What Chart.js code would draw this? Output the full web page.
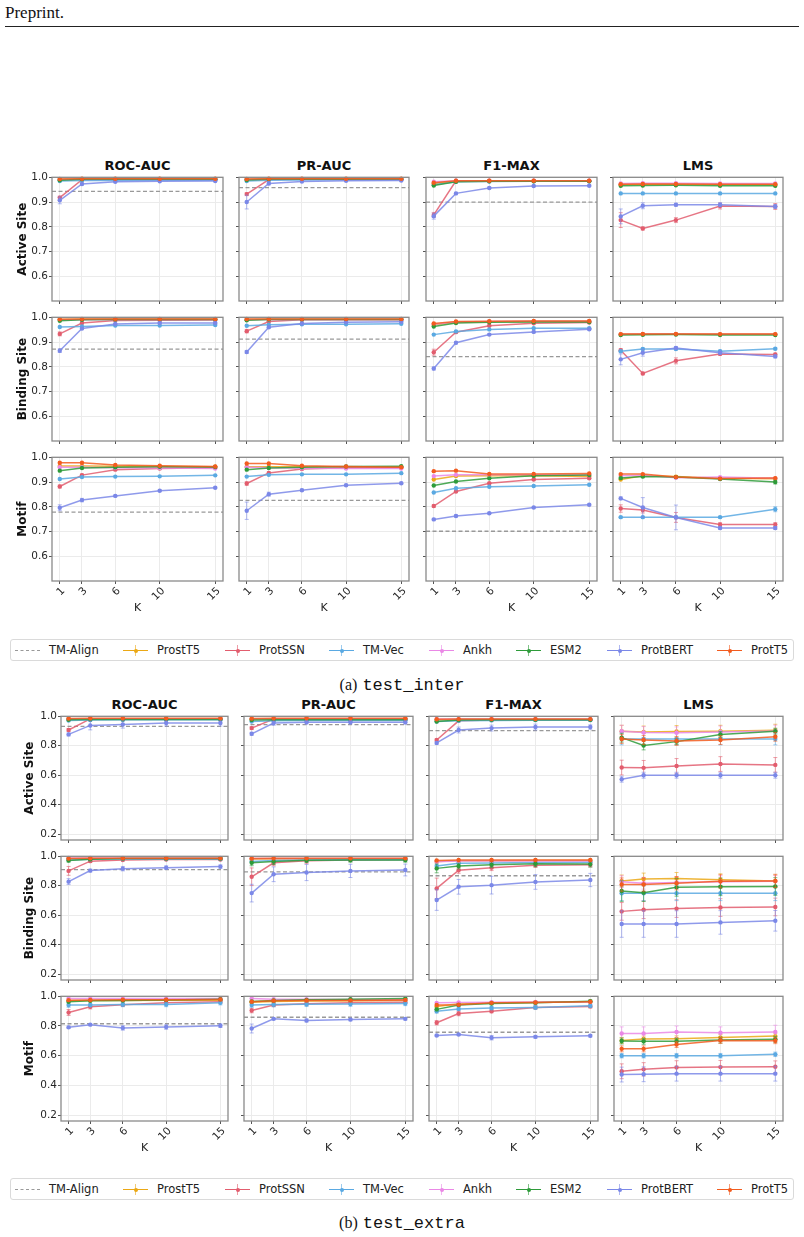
<!DOCTYPE html>
<html>
<head>
<meta charset="utf-8">
<script src="https://cdn.jsdelivr.net/npm/chart.js@4.4.1/dist/chart.umd.min.js"></script>
<style>
  body { margin: 0; background: #fff; width: 804px; height: 1237px; position: relative; overflow: hidden; font-family: "DejaVu Sans", sans-serif; }
  .abs { position: absolute; }
  .coltitle { position: absolute; font: bold 13px "DejaVu Sans"; color: #111; text-align: center; line-height: 16px; }
  .legend { position: absolute; left: 10px; width: 782px; height: 20px; border: 1px solid #dadada; border-radius: 3px; }
  .legtext { position: absolute; font: 11.5px "DejaVu Sans"; color: #222; line-height: 20px; top: 0; }
  .caption { position: absolute; left: 0; width: 804px; text-align: center; line-height: 22px; color: #111; }
</style>
</head>
<body>
<div class="abs" style="left:5px;top:3px;font:17px 'Liberation Serif';color:#111;">Preprint.</div>
<div class="abs" style="left:5px;top:26px;width:794px;height:1px;background:#222;"></div>

<script>
// ---- data ----
const K = [1, 3, 6, 10, 15];
const models = ["ProstT5", "ProtSSN", "TM-Vec", "Ankh", "ESM2", "ProtBERT", "ProtT5"];
const metrics = ["ROC-AUC", "PR-AUC", "F1-MAX", "LMS"];
const tasks = ["Active Site", "Binding Site", "Motif"];
const colors = {
  "TM-Align": "#999999",
  ProstT5: "#EBA815",
  ProtSSN: "#E25D6E",
  "TM-Vec": "#5AA9E2",
  Ankh: "#EA88E6",
  ESM2: "#2E9B3A",
  ProtBERT: "#7B88E8",
  ProtT5: "#F25C1F"
};

// test_inter
const interActiveRoc = {
  ProstT5:  [0.992, 0.993, 0.993, 0.993, 0.993],
  ProtSSN:  [0.918, 0.990, 0.991, 0.991, 0.991],
  "TM-Vec": [0.985, 0.987, 0.987, 0.988, 0.988],
  Ankh:     [0.991, 0.992, 0.992, 0.992, 0.992],
  ESM2:     [0.988, 0.992, 0.992, 0.992, 0.992],
  ProtBERT: [0.907, 0.973, 0.982, 0.984, 0.985],
  ProtT5:   [0.993, 0.994, 0.994, 0.994, 0.994]
};
const interActivePr = {
  ProstT5:  [0.992, 0.993, 0.993, 0.993, 0.993],
  ProtSSN:  [0.932, 0.991, 0.992, 0.992, 0.992],
  "TM-Vec": [0.985, 0.988, 0.989, 0.990, 0.990],
  Ankh:     [0.991, 0.992, 0.992, 0.992, 0.992],
  ESM2:     [0.989, 0.992, 0.992, 0.992, 0.992],
  ProtBERT: [0.900, 0.975, 0.983, 0.986, 0.987],
  ProtT5:   [0.993, 0.994, 0.994, 0.994, 0.994]
};
const interActiveF1 = {
  ProstT5:  [0.975, 0.984, 0.985, 0.985, 0.985],
  ProtSSN:  [0.848, 0.986, 0.986, 0.986, 0.986],
  "TM-Vec": [0.970, 0.982, 0.983, 0.984, 0.984],
  Ankh:     [0.982, 0.986, 0.986, 0.986, 0.986],
  ESM2:     [0.967, 0.982, 0.984, 0.984, 0.984],
  ProtBERT: [0.843, 0.935, 0.957, 0.965, 0.966],
  ProtT5:   [0.978, 0.986, 0.986, 0.986, 0.986]
};
const interActiveLms = {
  ProstT5:  [0.971, 0.972, 0.972, 0.971, 0.971],
  ProtSSN:  [0.827, 0.793, 0.827, 0.884, 0.882],
  "TM-Vec": [0.935, 0.935, 0.935, 0.935, 0.935],
  Ankh:     [0.975, 0.976, 0.976, 0.975, 0.975],
  ESM2:     [0.966, 0.967, 0.968, 0.966, 0.966],
  ProtBERT: [0.842, 0.885, 0.889, 0.889, 0.882],
  ProtT5:   [0.972, 0.973, 0.973, 0.972, 0.972]
};
const interBindingRoc = {
  ProstT5:  [0.991, 0.992, 0.992, 0.992, 0.992],
  ProtSSN:  [0.933, 0.977, 0.987, 0.988, 0.989],
  "TM-Vec": [0.961, 0.963, 0.967, 0.967, 0.969],
  Ankh:     [0.990, 0.990, 0.991, 0.991, 0.991],
  ESM2:     [0.986, 0.990, 0.991, 0.991, 0.991],
  ProtBERT: [0.865, 0.955, 0.973, 0.977, 0.977],
  ProtT5:   [0.992, 0.993, 0.993, 0.993, 0.993]
};
const interBindingPr = {
  ProstT5:  [0.991, 0.992, 0.992, 0.992, 0.992],
  ProtSSN:  [0.944, 0.983, 0.990, 0.990, 0.990],
  "TM-Vec": [0.966, 0.970, 0.972, 0.972, 0.974],
  Ankh:     [0.990, 0.991, 0.991, 0.991, 0.991],
  ESM2:     [0.988, 0.991, 0.991, 0.991, 0.991],
  ProtBERT: [0.860, 0.960, 0.975, 0.980, 0.982],
  ProtT5:   [0.993, 0.993, 0.993, 0.993, 0.993]
};
const interBindingF1 = {
  ProstT5:  [0.970, 0.980, 0.982, 0.983, 0.983],
  ProtSSN:  [0.859, 0.940, 0.966, 0.976, 0.979],
  "TM-Vec": [0.930, 0.943, 0.951, 0.956, 0.956],
  Ankh:     [0.972, 0.981, 0.983, 0.984, 0.984],
  ESM2:     [0.963, 0.977, 0.980, 0.981, 0.981],
  ProtBERT: [0.793, 0.897, 0.930, 0.941, 0.952],
  ProtT5:   [0.975, 0.983, 0.984, 0.985, 0.985]
};
const interBindingLms = {
  ProstT5:  [0.931, 0.932, 0.932, 0.931, 0.931],
  ProtSSN:  [0.867, 0.773, 0.824, 0.852, 0.850],
  "TM-Vec": [0.863, 0.872, 0.872, 0.863, 0.873],
  Ankh:     [0.931, 0.932, 0.932, 0.931, 0.931],
  ESM2:     [0.928, 0.929, 0.930, 0.928, 0.928],
  ProtBERT: [0.830, 0.857, 0.876, 0.857, 0.842],
  ProtT5:   [0.932, 0.933, 0.933, 0.932, 0.932]
};
const interMotifRoc = {
  ProstT5:  [0.965, 0.965, 0.964, 0.963, 0.962],
  ProtSSN:  [0.882, 0.928, 0.950, 0.955, 0.958],
  "TM-Vec": [0.912, 0.920, 0.922, 0.923, 0.927],
  Ankh:     [0.960, 0.960, 0.958, 0.957, 0.955],
  ESM2:     [0.946, 0.957, 0.960, 0.962, 0.961],
  ProtBERT: [0.796, 0.827, 0.844, 0.865, 0.877],
  ProtT5:   [0.978, 0.978, 0.969, 0.966, 0.963]
};
const interMotifPr = {
  ProstT5:  [0.962, 0.962, 0.962, 0.961, 0.960],
  ProtSSN:  [0.894, 0.937, 0.953, 0.958, 0.958],
  "TM-Vec": [0.922, 0.929, 0.931, 0.931, 0.936],
  Ankh:     [0.960, 0.958, 0.956, 0.955, 0.955],
  ESM2:     [0.950, 0.957, 0.960, 0.963, 0.964],
  ProtBERT: [0.784, 0.851, 0.867, 0.887, 0.895],
  ProtT5:   [0.975, 0.975, 0.966, 0.963, 0.960]
};
const interMotifF1 = {
  ProstT5:  [0.910, 0.924, 0.925, 0.925, 0.922],
  ProtSSN:  [0.803, 0.862, 0.895, 0.910, 0.915],
  "TM-Vec": [0.858, 0.875, 0.881, 0.884, 0.889],
  Ankh:     [0.924, 0.929, 0.929, 0.929, 0.928],
  ESM2:     [0.886, 0.902, 0.915, 0.925, 0.928],
  ProtBERT: [0.749, 0.763, 0.774, 0.797, 0.808],
  ProtT5:   [0.944, 0.946, 0.933, 0.933, 0.935]
};
const interMotifLms = {
  ProstT5:  [0.910, 0.925, 0.922, 0.915, 0.913],
  ProtSSN:  [0.793, 0.787, 0.757, 0.728, 0.728],
  "TM-Vec": [0.758, 0.758, 0.758, 0.758, 0.790],
  Ankh:     [0.925, 0.927, 0.917, 0.920, 0.915],
  ESM2:     [0.916, 0.922, 0.920, 0.912, 0.900],
  ProtBERT: [0.834, 0.797, 0.757, 0.714, 0.714],
  ProtT5:   [0.932, 0.932, 0.920, 0.914, 0.916]
};
const interTmAlign = [
  [0.943, 0.958, 0.900, null],
  [0.871, 0.912, 0.841, null],
  [0.778, 0.826, 0.701, null]
];
// error bars (std), only where visible
const interActiveRocErr = { ProtSSN: [0.006, 0.002, 0.001, 0.001, 0.001], ProtBERT: [0.014, 0.004, 0.002, 0.002, 0.002] };
const interActivePrErr = { ProtSSN: [0.006, 0.002, 0.001, 0.001, 0.001], ProtBERT: [0.028, 0.005, 0.002, 0.002, 0.002] };
const interActiveF1Err = { ProtSSN: [0.010, 0.002, 0.001, 0.001, 0.001], ProtBERT: [0.012, 0.004, 0.003, 0.003, 0.003] };
const interActiveLmsErr = { ProtSSN: [0.030, 0.006, 0.010, 0.012, 0.012], ProtBERT: [0.030, 0.012, 0.006, 0.008, 0.008] };
const interBindingRocErr = { ProtSSN: [0.008, 0.003, 0.002, 0.002, 0.002], ProtBERT: [0.007, 0.004, 0.002, 0.002, 0.002] };
const interBindingPrErr = { ProtSSN: [0.007, 0.003, 0.002, 0.002, 0.002], ProtBERT: [0.006, 0.004, 0.002, 0.002, 0.002] };
const interBindingF1Err = { ProtSSN: [0.012, 0.004, 0.003, 0.003, 0.003], ProtBERT: [0.006, 0.004, 0.003, 0.003, 0.003] };
const interBindingLmsErr = { ProtSSN: [0.006, 0.005, 0.012, 0.005, 0.005], ProtBERT: [0.022, 0.014, 0.006, 0.006, 0.006], "TM-Vec": [0.004, 0.004, 0.004, 0.004, 0.004] };
const interMotifRocErr = { ProtSSN: [0.006, 0.004, 0.003, 0.003, 0.003], ProtBERT: [0.012, 0.007, 0.003, 0.003, 0.003] };
const interMotifPrErr = { ProtSSN: [0.007, 0.004, 0.003, 0.003, 0.003], ProtBERT: [0.035, 0.008, 0.004, 0.004, 0.004] };
const interMotifF1Err = { ProtSSN: [0.005, 0.004, 0.003, 0.003, 0.003], ProtBERT: [0.004, 0.004, 0.003, 0.003, 0.003] };
const interMotifLmsErr = {
  ESM2: [0.004, 0.004, 0.004, 0.004, 0.008], ProtBERT: [0.006, 0.040, 0.050, 0.006, 0.006],
  ProtSSN: [0.015, 0.012, 0.020, 0.008, 0.008], "TM-Vec": [0.003, 0.003, 0.003, 0.003, 0.010]
};

// test_extra
const extraActiveRoc = {
  ProstT5:  [0.982, 0.983, 0.983, 0.983, 0.983],
  ProtSSN:  [0.907, 0.982, 0.983, 0.983, 0.983],
  "TM-Vec": [0.971, 0.975, 0.976, 0.976, 0.976],
  Ankh:     [0.983, 0.984, 0.984, 0.984, 0.984],
  ESM2:     [0.976, 0.978, 0.978, 0.978, 0.978],
  ProtBERT: [0.877, 0.938, 0.945, 0.954, 0.954],
  ProtT5:   [0.985, 0.986, 0.986, 0.986, 0.986]
};
const extraActivePr = {
  ProstT5:  [0.980, 0.981, 0.981, 0.981, 0.981],
  ProtSSN:  [0.920, 0.982, 0.983, 0.983, 0.983],
  "TM-Vec": [0.965, 0.970, 0.972, 0.972, 0.972],
  Ankh:     [0.982, 0.983, 0.983, 0.983, 0.983],
  ESM2:     [0.975, 0.976, 0.976, 0.976, 0.976],
  ProtBERT: [0.881, 0.954, 0.960, 0.960, 0.960],
  ProtT5:   [0.985, 0.986, 0.986, 0.986, 0.986]
};
const extraActiveF1 = {
  ProstT5:  [0.975, 0.978, 0.979, 0.979, 0.979],
  ProtSSN:  [0.839, 0.969, 0.975, 0.976, 0.976],
  "TM-Vec": [0.965, 0.970, 0.972, 0.974, 0.974],
  Ankh:     [0.982, 0.982, 0.982, 0.982, 0.982],
  ESM2:     [0.965, 0.975, 0.976, 0.977, 0.977],
  ProtBERT: [0.819, 0.907, 0.920, 0.927, 0.927],
  ProtT5:   [0.980, 0.981, 0.981, 0.981, 0.981]
};
const extraActiveLms = {
  ProstT5:  [0.899, 0.894, 0.897, 0.899, 0.906],
  ProtSSN:  [0.652, 0.650, 0.663, 0.676, 0.670],
  "TM-Vec": [0.846, 0.846, 0.846, 0.846, 0.846],
  Ankh:     [0.899, 0.890, 0.888, 0.894, 0.900],
  ESM2:     [0.855, 0.802, 0.828, 0.877, 0.899],
  ProtBERT: [0.573, 0.600, 0.600, 0.600, 0.600],
  ProtT5:   [0.846, 0.839, 0.833, 0.839, 0.861]
};
const extraBindingRoc = {
  ProstT5:  [0.985, 0.985, 0.985, 0.985, 0.985],
  ProtSSN:  [0.901, 0.967, 0.975, 0.978, 0.978],
  "TM-Vec": [0.975, 0.980, 0.982, 0.982, 0.982],
  Ankh:     [0.988, 0.988, 0.988, 0.988, 0.988],
  ESM2:     [0.971, 0.980, 0.985, 0.985, 0.985],
  ProtBERT: [0.828, 0.903, 0.916, 0.923, 0.930],
  ProtT5:   [0.985, 0.987, 0.987, 0.987, 0.987]
};
const extraBindingPr = {
  ProstT5:  [0.982, 0.982, 0.982, 0.982, 0.982],
  ProtSSN:  [0.861, 0.956, 0.970, 0.975, 0.978],
  "TM-Vec": [0.965, 0.972, 0.975, 0.976, 0.976],
  Ankh:     [0.985, 0.985, 0.985, 0.985, 0.985],
  ESM2:     [0.956, 0.964, 0.973, 0.975, 0.975],
  ProtBERT: [0.750, 0.878, 0.890, 0.901, 0.907],
  ProtT5:   [0.985, 0.986, 0.986, 0.986, 0.986]
};
const extraBindingF1 = {
  ProstT5:  [0.965, 0.970, 0.970, 0.971, 0.971],
  ProtSSN:  [0.782, 0.905, 0.923, 0.940, 0.943],
  "TM-Vec": [0.934, 0.952, 0.955, 0.958, 0.960],
  Ankh:     [0.963, 0.968, 0.968, 0.968, 0.968],
  ESM2:     [0.918, 0.934, 0.943, 0.949, 0.947],
  ProtBERT: [0.703, 0.793, 0.804, 0.826, 0.839],
  ProtT5:   [0.971, 0.975, 0.975, 0.975, 0.975]
};
const extraBindingLms = {
  ProstT5:  [0.833, 0.846, 0.850, 0.841, 0.833],
  ProtSSN:  [0.626, 0.637, 0.645, 0.652, 0.656],
  "TM-Vec": [0.749, 0.749, 0.749, 0.749, 0.749],
  Ankh:     [0.828, 0.817, 0.822, 0.828, 0.830],
  ESM2:     [0.764, 0.753, 0.789, 0.793, 0.795],
  ProtBERT: [0.540, 0.540, 0.540, 0.551, 0.562],
  ProtT5:   [0.808, 0.808, 0.817, 0.830, 0.833]
};
const extraMotifRoc = {
  ProstT5:  [0.970, 0.972, 0.972, 0.973, 0.974],
  ProtSSN:  [0.891, 0.930, 0.943, 0.957, 0.963],
  "TM-Vec": [0.941, 0.941, 0.945, 0.945, 0.957],
  Ankh:     [0.985, 0.985, 0.985, 0.985, 0.985],
  ESM2:     [0.963, 0.970, 0.972, 0.975, 0.980],
  ProtBERT: [0.791, 0.809, 0.787, 0.793, 0.802],
  ProtT5:   [0.974, 0.975, 0.977, 0.977, 0.978]
};
const extraMotifPr = {
  ProstT5:  [0.960, 0.965, 0.968, 0.970, 0.972],
  ProtSSN:  [0.904, 0.941, 0.950, 0.957, 0.960],
  "TM-Vec": [0.941, 0.944, 0.946, 0.948, 0.952],
  Ankh:     [0.985, 0.980, 0.980, 0.978, 0.978],
  ESM2:     [0.965, 0.972, 0.976, 0.980, 0.985],
  ProtBERT: [0.783, 0.848, 0.837, 0.843, 0.848],
  ProtT5:   [0.963, 0.970, 0.972, 0.972, 0.975]
};
const extraMotifF1 = {
  ProstT5:  [0.932, 0.950, 0.955, 0.960, 0.963],
  ProtSSN:  [0.822, 0.884, 0.899, 0.925, 0.932],
  "TM-Vec": [0.899, 0.915, 0.921, 0.925, 0.936],
  Ankh:     [0.956, 0.958, 0.960, 0.962, 0.962],
  ESM2:     [0.912, 0.941, 0.952, 0.956, 0.967],
  ProtBERT: [0.736, 0.743, 0.721, 0.727, 0.734],
  ProtT5:   [0.941, 0.943, 0.956, 0.958, 0.963]
};
const extraMotifLms = {
  ProstT5:  [0.703, 0.712, 0.714, 0.723, 0.732],
  ProtSSN:  [0.495, 0.508, 0.521, 0.523, 0.525],
  "TM-Vec": [0.600, 0.600, 0.600, 0.600, 0.609],
  Ankh:     [0.749, 0.749, 0.760, 0.754, 0.760],
  ESM2:     [0.699, 0.697, 0.697, 0.705, 0.710],
  ProtBERT: [0.473, 0.475, 0.479, 0.479, 0.479],
  ProtT5:   [0.646, 0.646, 0.675, 0.703, 0.701]
};
const extraTmAlign = [
  [0.932, 0.943, 0.903, null],
  [0.910, 0.894, 0.868, null],
  [0.815, 0.859, 0.758, null]
];
const extraActiveRocErr = { ProtSSN: [0.010, 0.004, 0.003, 0.003, 0.003], ProtBERT: [0.010, 0.030, 0.025, 0.020, 0.020] };
const extraActivePrErr = { ProtSSN: [0.010, 0.004, 0.003, 0.003, 0.003], ProtBERT: [0.010, 0.015, 0.012, 0.012, 0.012] };
const extraActiveF1Err = { ProtSSN: [0.008, 0.004, 0.003, 0.003, 0.003], ProtBERT: [0.008, 0.020, 0.020, 0.020, 0.015] };
const extraActiveLmsErr = {
  ProstT5: [0.040, 0.040, 0.040, 0.040, 0.040], Ankh: [0.040, 0.040, 0.040, 0.040, 0.040],
  ESM2: [0.030, 0.030, 0.020, 0.020, 0.020], ProtT5: [0.030, 0.030, 0.030, 0.030, 0.030],
  "TM-Vec": [0.040, 0.040, 0.040, 0.040, 0.040], ProtSSN: [0.050, 0.050, 0.050, 0.050, 0.050],
  ProtBERT: [0.020, 0.020, 0.020, 0.020, 0.020]
};
const extraBindingRocErr = { ESM2: [0.010, 0.010, 0.008, 0.008, 0.008], ProtSSN: [0.030, 0.008, 0.005, 0.005, 0.005], ProtBERT: [0.020, 0.010, 0.015, 0.012, 0.012] };
const extraBindingPrErr = { ESM2: [0.020, 0.020, 0.015, 0.015, 0.015], ProtSSN: [0.060, 0.020, 0.020, 0.010, 0.010], ProtBERT: [0.060, 0.050, 0.055, 0.045, 0.040] };
const extraBindingF1Err = { ESM2: [0.030, 0.020, 0.020, 0.020, 0.020], ProtSSN: [0.070, 0.020, 0.020, 0.015, 0.015], ProtBERT: [0.070, 0.050, 0.060, 0.050, 0.045] };
const extraBindingLmsErr = {
  ProstT5: [0.040, 0.040, 0.040, 0.040, 0.040], Ankh: [0.040, 0.040, 0.040, 0.040, 0.040],
  ProtT5: [0.045, 0.045, 0.045, 0.045, 0.045], ESM2: [0.070, 0.060, 0.060, 0.060, 0.060],
  "TM-Vec": [0.050, 0.050, 0.050, 0.050, 0.050], ProtSSN: [0.060, 0.060, 0.060, 0.060, 0.060],
  ProtBERT: [0.090, 0.090, 0.090, 0.080, 0.070]
};
const extraMotifRocErr = { "TM-Vec": [0.015, 0.012, 0.015, 0.015, 0.015], ProtSSN: [0.020, 0.015, 0.010, 0.010, 0.010], ProtBERT: [0.008, 0.006, 0.015, 0.015, 0.012] };
const extraMotifPrErr = { "TM-Vec": [0.015, 0.015, 0.015, 0.015, 0.015], ProtSSN: [0.015, 0.010, 0.010, 0.010, 0.010], ProtBERT: [0.030, 0.006, 0.010, 0.008, 0.008] };
const extraMotifF1Err = { "TM-Vec": [0.012, 0.012, 0.012, 0.012, 0.012], ESM2: [0.010, 0.008, 0.008, 0.008, 0.008], ProtSSN: [0.015, 0.015, 0.010, 0.010, 0.010], ProtBERT: [0.006, 0.006, 0.015, 0.010, 0.008] };
const extraMotifLmsErr = {
  Ankh: [0.045, 0.045, 0.040, 0.040, 0.045], ProstT5: [0.020, 0.020, 0.020, 0.020, 0.020],
  ESM2: [0.020, 0.020, 0.020, 0.020, 0.020], ProtT5: [0.020, 0.020, 0.020, 0.020, 0.020],
  "TM-Vec": [0.015, 0.015, 0.015, 0.015, 0.015], ProtSSN: [0.050, 0.045, 0.045, 0.045, 0.040],
  ProtBERT: [0.050, 0.050, 0.050, 0.050, 0.050]
};

// ---- layout ----
const figures = [
  {
    name: "(a)", code: "test_inter",
    panels: [
      [interActiveRoc, interActivePr, interActiveF1, interActiveLms],
      [interBindingRoc, interBindingPr, interBindingF1, interBindingLms],
      [interMotifRoc, interMotifPr, interMotifF1, interMotifLms]
    ],
    errors: [
      [interActiveRocErr, interActivePrErr, interActiveF1Err, interActiveLmsErr],
      [interBindingRocErr, interBindingPrErr, interBindingF1Err, interBindingLmsErr],
      [interMotifRocErr, interMotifPrErr, interMotifF1Err, interMotifLmsErr]
    ],
    tmAlign: interTmAlign,
    yMin: 0.5, yTicks: [0.6, 0.7, 0.8, 0.9, 1.0],
    cols: [[52, 223], [239, 409], [426, 597], [613, 783]],
    rows: [[174, 301], [314, 441], [454, 581]],
    titleY: 158, labelPad: 16, legendY: 639, captionY: 674
  },
  {
    name: "(b)", code: "test_extra",
    panels: [
      [extraActiveRoc, extraActivePr, extraActiveF1, extraActiveLms],
      [extraBindingRoc, extraBindingPr, extraBindingF1, extraBindingLms],
      [extraMotifRoc, extraMotifPr, extraMotifF1, extraMotifLms]
    ],
    errors: [
      [extraActiveRocErr, extraActivePrErr, extraActiveF1Err, extraActiveLmsErr],
      [extraBindingRocErr, extraBindingPrErr, extraBindingF1Err, extraBindingLmsErr],
      [extraMotifRocErr, extraMotifPrErr, extraMotifF1Err, extraMotifLmsErr]
    ],
    tmAlign: extraTmAlign,
    yMin: 0.16, yTicks: [0.2, 0.4, 0.6, 0.8, 1.0],
    cols: [[61, 228], [244, 413], [429, 598], [614, 783]],
    rows: [[713, 840], [853, 980], [993, 1121]],
    titleY: 697, labelPad: 23, legendY: 1178, captionY: 1212
  }
];

Chart.defaults.font.family = "DejaVu Sans";
Chart.defaults.color = "#222";

function rgba(hex, a) {
  const n = parseInt(hex.slice(1), 16);
  return `rgba(${n >> 16},${(n >> 8) & 255},${n & 255},${a})`;
}

// plot frame on all four sides
const framePlugin = {
  id: "frame",
  afterDatasetsDraw(chart) {
    const { ctx, chartArea: a } = chart;
    ctx.save();
    ctx.strokeStyle = "#8a8a8a";
    ctx.lineWidth = 1.3;
    ctx.strokeRect(a.left, a.top, a.right - a.left, a.bottom - a.top);
    ctx.restore();
  }
};

// vertical error bars with caps
const errorBarPlugin = {
  id: "errorBars",
  afterDatasetDraw(chart, args) {
    const ds = chart.data.datasets[args.index];
    if (!ds.errors) return;
    const ctx = chart.ctx, yScale = chart.scales.y;
    ctx.save();
    ctx.strokeStyle = ds.errColor;
    ctx.lineWidth = 1;
    args.meta.data.forEach((pt, i) => {
      const e = ds.errors[i];
      if (!e) return;
      const v = ds.data[i].y;
      const yTop = yScale.getPixelForValue(v + e);
      const yBot = yScale.getPixelForValue(v - e);
      ctx.beginPath();
      ctx.moveTo(pt.x, yTop); ctx.lineTo(pt.x, yBot);
      ctx.moveTo(pt.x - 2, yTop); ctx.lineTo(pt.x + 2, yTop);
      ctx.moveTo(pt.x - 2, yBot); ctx.lineTo(pt.x + 2, yBot);
      ctx.stroke();
    });
    ctx.restore();
  }
};

function makePanel(fig, r, c) {
  const [x0, x1] = fig.cols[c];
  const [y0, y1] = fig.rows[r];
  const first = c === 0, bottom = r === 2;
  const yw = first ? x0 : 10;
  const xh = bottom ? 40 : 8;
  const w = x1 - x0 + yw + 4, h = y1 - y0 + 4 + xh;

  const canvas = document.createElement("canvas");
  canvas.width = w; canvas.height = h;
  canvas.style.cssText = `position:absolute;left:${x0 - yw}px;top:${y0 - 4}px;width:${w}px;height:${h}px;`;
  document.body.appendChild(canvas);

  const values = fig.panels[r][c];
  const errs = fig.errors[r][c];
  const datasets = [];

  const tm = fig.tmAlign[r][c];
  if (tm !== null) {
    datasets.push({
      label: "TM-Align",
      data: [{ x: 0.3, y: tm }, { x: 15.7, y: tm }],
      borderColor: colors["TM-Align"],
      borderWidth: 1.3,
      borderDash: [4, 2.5],
      pointRadius: 0,
      order: 20
    });
  }
  models.forEach((m, i) => {
    datasets.push({
      label: m,
      data: K.map((k, j) => ({ x: k, y: values[m][j] })),
      errors: errs[m] || null,
      errColor: rgba(colors[m], 0.6),
      borderColor: rgba(colors[m], 0.85),
      backgroundColor: colors[m],
      pointBackgroundColor: colors[m],
      borderWidth: 1.5,
      pointRadius: 2.2,
      pointBorderWidth: 0,
      tension: 0,
      clip: false,
      order: models.length - i
    });
  });

  new Chart(canvas, {
    type: "line",
    data: { datasets },
    options: {
      responsive: false,
      animation: false,
      events: [],
      layout: { padding: { top: 4, right: 4, left: 0, bottom: 0 } },
      plugins: { legend: { display: false }, tooltip: { enabled: false } },
      scales: {
        x: {
          type: "linear",
          min: 0.3, max: 15.7,
          afterBuildTicks: s => { s.ticks = K.map(v => ({ value: v })); },
          afterFit: s => { s.height = xh; },
          ticks: {
            autoSkip: false,
            callback: v => bottom ? String(v) : "",
            minRotation: 45, maxRotation: 45,
            labelOffset: 3.5,
            padding: 1,
            font: { size: 10.5 },
            color: "#262626"
          },
          grid: { color: "#ebebeb", tickColor: "#555", tickLength: 3 },
          border: { display: false },
          title: { display: bottom, text: "K", font: { size: 11 }, color: "#222", padding: { top: 0, bottom: 6 } }
        },
        y: {
          min: fig.yMin, max: 1.0,
          afterBuildTicks: s => { s.ticks = fig.yTicks.map(v => ({ value: v })); },
          afterFit: s => { s.width = yw; },
          ticks: {
            autoSkip: false,
            callback: v => first ? v.toFixed(1) : "",
            padding: 1,
            font: { size: 10.5 },
            color: "#262626"
          },
          grid: { color: "#ebebeb", tickColor: "#555", tickLength: 3 },
          border: { display: false },
          title: {
            display: first, text: tasks[r],
            font: { size: 12, weight: "bold" }, color: "#111",
            padding: { top: fig.labelPad, bottom: 0 }
          }
        }
      }
    },
    plugins: [framePlugin, errorBarPlugin]
  });
}

const legendX = [15, 123, 225, 329, 429, 516, 607, 717];

function makeLegend(top) {
  const box = document.createElement("div");
  box.className = "legend";
  box.style.top = top + "px";
  document.body.appendChild(box);
  ["TM-Align", ...models].forEach((m, i) => {
    const lx = legendX[i] - 11;
    const line = document.createElement("div");
    line.className = "abs";
    const style = m === "TM-Align" ? "dashed" : "solid";
    line.style.cssText = `left:${lx}px;top:10px;width:25px;height:0;border-top:1.4px ${style} ${colors[m]};`;
    box.appendChild(line);
    if (m !== "TM-Align") {
      const bar = document.createElement("div");
      bar.className = "abs";
      bar.style.cssText = `left:${lx + 12}px;top:5px;width:1px;height:11px;background:${rgba(colors[m], 0.6)};`;
      box.appendChild(bar);
      const dot = document.createElement("div");
      dot.className = "abs";
      dot.style.cssText = `left:${lx + 10.5}px;top:8.8px;width:4px;height:4px;border-radius:2px;background:${colors[m]};`;
      box.appendChild(dot);
    }
    const t = document.createElement("div");
    t.className = "legtext";
    t.style.left = (lx + 34) + "px";
    t.textContent = m;
    box.appendChild(t);
  });
}

figures.forEach(fig => {
  metrics.forEach((m, c) => {
    const [x0, x1] = fig.cols[c];
    const d = document.createElement("div");
    d.className = "coltitle";
    d.style.cssText = `left:${x0}px;width:${x1 - x0}px;top:${fig.titleY}px;`;
    d.textContent = m;
    document.body.appendChild(d);
  });
  for (let r = 0; r < 3; r++) for (let c = 0; c < 4; c++) makePanel(fig, r, c);
  makeLegend(fig.legendY);
  const cap = document.createElement("div");
  cap.className = "caption";
  cap.style.top = fig.captionY + "px";
  cap.innerHTML = `<span style="font:16px 'Liberation Serif'">${fig.name}</span> <span style="font:17px 'Liberation Mono'">${fig.code}</span>`;
  document.body.appendChild(cap);
});
</script>
</body>
</html>
